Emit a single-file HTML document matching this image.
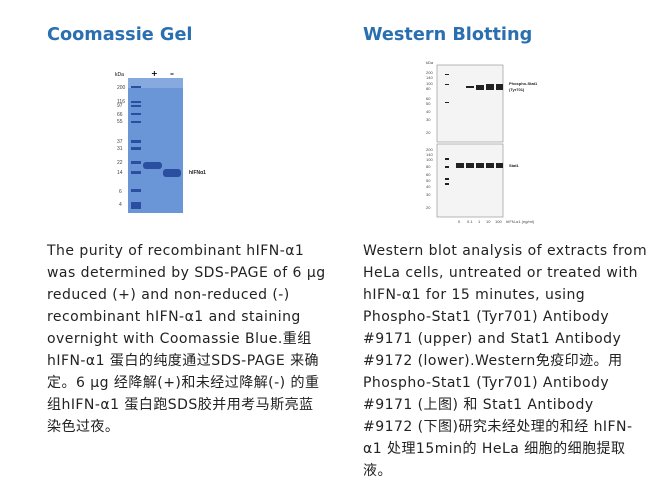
<!DOCTYPE html>
<html><head><meta charset="utf-8"><style>
body{margin:0;width:671px;height:487px;background:#fff;position:relative;overflow:hidden;font-family:"DejaVu Sans","Noto Sans CJK SC",sans-serif}
h2{position:absolute;margin:0;font-size:17.7px;font-weight:bold;color:#2a6fb0;top:25px;font-family:"DejaVu Sans",sans-serif}
.t{position:absolute;font-size:14px;line-height:22px;color:#222;top:240px;white-space:nowrap;letter-spacing:0.47px}
</style></head><body>
<h2 style="left:47px">Coomassie Gel</h2>
<h2 style="left:363px">Western Blotting</h2>
<svg style="position:absolute;left:110px;top:60px" width="120" height="160">
<rect x="18" y="18" width="55" height="135" fill="#6a95d6"/>
<rect x="18" y="18" width="55" height="10" fill="#86a9df"/>
<g fill="#2a4fa0"><rect x="21" y="26" width="10" height="2"/><rect x="21" y="41" width="10" height="2"/><rect x="21" y="45" width="10" height="2"/><rect x="21" y="53" width="10" height="2"/><rect x="21" y="61" width="10" height="2"/><rect x="21" y="80" width="10" height="3"/><rect x="21" y="87" width="10" height="3"/><rect x="21" y="101" width="10" height="3"/><rect x="21" y="111" width="10" height="3"/><rect x="21" y="129" width="10" height="3"/><rect x="21" y="142" width="10" height="7"/>
<rect x="33" y="102" width="19" height="7" rx="3"/><rect x="53" y="109" width="18" height="8" rx="3"/></g>
<text x="5" y="16" font-size="5" font-family="Liberation Sans">kDa</text>
<text x="41" y="16" font-size="8" font-weight="bold">+</text><text x="60" y="16" font-size="8" font-weight="bold">–</text>
<g font-size="5" font-family="Liberation Sans" fill="#444"><text x="7" y="29">200</text><text x="7" y="43">116</text><text x="7" y="47">97</text><text x="7" y="56">66</text><text x="7" y="63">55</text><text x="7" y="83">37</text><text x="7" y="90">31</text><text x="7" y="104">22</text><text x="7" y="114">14</text><text x="9" y="133">6</text><text x="9" y="146">4</text>
<text x="79" y="114" font-weight="bold" fill="#222">hIFNα1</text></g>
</svg>
<svg style="position:absolute;left:420px;top:60px" width="140" height="165">
<rect x="17" y="5" width="66" height="77" fill="#f4f4f4" stroke="#888" stroke-width="0.6"/>
<rect x="17" y="84" width="66" height="73" fill="#f4f4f4" stroke="#888" stroke-width="0.6"/>
<g fill="#222"><rect x="46" y="26" width="8" height="2"/><rect x="56" y="25" width="8" height="5"/><rect x="66" y="24" width="8" height="6"/><rect x="76" y="24" width="7" height="6"/>
<rect x="36" y="103" width="8" height="5"/><rect x="46" y="103" width="8" height="5"/><rect x="56" y="103" width="8" height="5"/><rect x="66" y="103" width="8" height="5"/><rect x="76" y="103" width="7" height="5"/>
<rect x="25" y="14" width="4" height="1"/><rect x="25" y="24" width="4" height="1"/><rect x="25" y="42" width="4" height="1"/><rect x="25" y="98" width="4" height="2"/><rect x="25" y="106" width="4" height="2"/><rect x="25" y="118" width="4" height="2"/><rect x="25" y="123" width="4" height="2"/></g>
<g font-size="4" font-family="Liberation Sans" fill="#444"><text x="6" y="4">kDa</text><text x="6" y="14">200</text><text x="6" y="19">140</text><text x="6" y="25">100</text><text x="6" y="30">80</text><text x="6" y="40">60</text><text x="6" y="45">50</text><text x="6" y="53">40</text><text x="6" y="61">30</text><text x="6" y="74">20</text>
<text x="6" y="91">200</text><text x="6" y="96">140</text><text x="6" y="101">100</text><text x="6" y="108">80</text><text x="6" y="116">60</text><text x="6" y="122">50</text><text x="6" y="128">40</text><text x="6" y="136">30</text><text x="6" y="149">20</text>
<text x="89" y="25" font-weight="bold" fill="#222">Phospho-Stat1</text><text x="89" y="31" font-weight="bold" fill="#222">(Tyr701)</text><text x="89" y="107" font-weight="bold" fill="#222">Stat1</text><text x="86" y="163">hIFN-α1 (ng/ml)</text>
<text x="38" y="163">0</text><text x="47" y="163">0.1</text><text x="58" y="163">1</text><text x="66" y="163">10</text><text x="75" y="163">100</text></g>
</svg>
<div class="t" style="left:47px">The purity of recombinant hIFN-α1<br>was determined by SDS-PAGE of 6 µg<br>reduced (+) and non-reduced (-)<br>recombinant hIFN-α1 and staining<br>overnight with Coomassie Blue.重组<br>hIFN-α1 蛋白的纯度通过SDS-PAGE 来确<br>定。6 µg 经降解(+)和未经过降解(-) 的重<br>组hIFN-α1 蛋白跑SDS胶并用考马斯亮蓝<br>染色过夜。</div>
<div class="t" style="left:363px">Western blot analysis of extracts from<br>HeLa cells, untreated or treated with<br>hIFN-α1 for 15 minutes, using<br>Phospho-Stat1 (Tyr701) Antibody<br>#9171 (upper) and Stat1 Antibody<br>#9172 (lower).Western免疫印迹。用<br>Phospho-Stat1 (Tyr701) Antibody<br>#9171 (上图) 和 Stat1 Antibody<br>#9172 (下图)研究未经处理的和经 hIFN-<br>α1 处理15min的 HeLa 细胞的细胞提取<br>液。</div>
</body></html>
